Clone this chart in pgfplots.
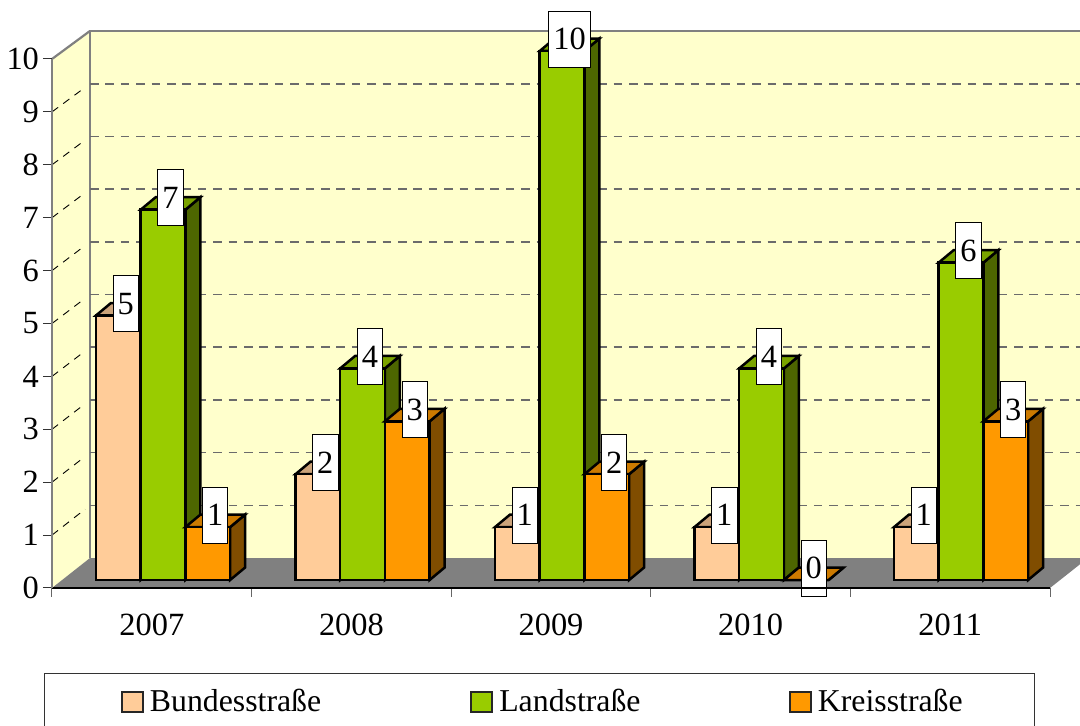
\documentclass[border=0pt]{standalone}
\usepackage{fontspec}
\setmainfont{Liberation Serif}
\usepackage{pgfplots}
\pgfplotsset{compat=1.18}

% 1 image pixel = 0.5pt
\definecolor{wallc}{HTML}{FFFFCC}
\definecolor{floorc}{HTML}{808080}
\definecolor{peachf}{HTML}{FFCC99}
\definecolor{peachs}{HTML}{806650}
\definecolor{peacht}{HTML}{CCA37A}
\definecolor{greenf}{HTML}{99CC00}
\definecolor{greens}{HTML}{4D6600}
\definecolor{greent}{HTML}{7AA300}
\definecolor{orangef}{HTML}{FF9900}
\definecolor{oranges}{HTML}{804D00}
\definecolor{oranget}{HTML}{CC7A00}

\tikzset{
  barline/.style={draw=black,line width=1.25pt,line join=miter},
  barlabel/.style={draw=black,line width=.5pt,fill=white,font=\fontsize{16.2}{18}\selectfont,
    minimum height=28pt,inner xsep=2.3pt,inner ysep=0pt},
  legendswatch/.style={draw=black!85,line width=1pt},
}

\newcommand{\basey}{0.151}
\newcommand{\barw}{0.224}
\newcommand{\depx}{0.075}
\newcommand{\depy}{0.236}

% #1 left edge, #2 value, #3 series colour prefix
\newcommand{\tdbar}[3]{%
  \pgfmathsetmacro\xa{#1}%
  \pgfmathsetmacro\xb{\xa+\barw}%
  \pgfmathsetmacro\xc{\xb+\depx}%
  \pgfmathsetmacro\xd{\xa+\depx}%
  \pgfmathsetmacro\ya{\basey}%
  \pgfmathsetmacro\yb{\basey+#2}%
  \pgfmathsetmacro\yc{\yb+\depy}%
  \pgfmathsetmacro\yd{\ya+\depy}%
  \edef\tmp{%
    \noexpand\addplot[forget plot,barline,fill=#3s] coordinates {(\xb,\ya) (\xc,\yd) (\xc,\yc) (\xb,\yb)} --cycle;
    \noexpand\addplot[forget plot,barline,fill=#3t] coordinates {(\xa,\yb) (\xd,\yc) (\xc,\yc) (\xb,\yb)} --cycle;
    \noexpand\addplot[forget plot,barline,fill=#3f] coordinates {(\xa,\ya) (\xb,\ya) (\xb,\yb) (\xa,\yb)} --cycle;
  }\tmp
}
\newcommand{\tdlabel}[2]{%
  \pgfmathsetmacro\xa{#1+\barw/2+\depx/2}%
  \pgfmathsetmacro\ya{\basey+#2+\depy-0.012}%
  \edef\tmp{\noexpand\node[barlabel] at (axis cs:\xa,\ya) {#2};}\tmp
}
% group index, Bundesstrasse, Landstrasse, Kreisstrasse
\newcommand{\tdgroup}[4]{%
  \tdbar{#1*0.9995+0.2204}{#2}{peach}%
  \tdbar{#1*0.9995+0.4444}{#3}{green}%
  \tdbar{#1*0.9995+0.6684}{#4}{orange}%
}
\newcommand{\tdgrouplabels}[4]{%
  \tdlabel{#1*0.9995+0.2204}{#2}%
  \tdlabel{#1*0.9995+0.4444}{#3}%
  \tdlabel{#1*0.9995+0.6684}{#4}%
}

\begin{document}
\begin{tikzpicture}
\path[use as bounding box] (-26pt,-69pt) rectangle (514pt,294pt);
\begin{axis}[
  x=99.8pt, y=26.45pt,
  xmin=0, xmax=5, ymin=0, ymax=10,
  clip=false,
  axis on top,
  axis x line=bottom, axis y line=left,
  x axis line style={-,black,line width=1pt},
  y axis line style={-,floorc,line width=1.1pt},
  xtick={0,1,2,3,4,5},
  xticklabels={2007,2008,2009,2010,2011},
  x tick label as interval,
  ytick={0,1,...,10},
  tick align=outside,
  major tick length=4.5pt,
  x tick style={black!60,line width=.5pt},
  y tick style={black!80,line width=.5pt},
  tick label style={font=\fontsize{16.2}{18}\selectfont},
  /pgf/number format/assume math mode=true,
  xticklabel style={yshift=-5pt},
  yticklabel style={xshift=1.5pt},
  legend image code/.code={\draw[#1] (0pt,-5pt) rectangle (10.5pt,5pt); \path (11.7pt,0pt);},
  legend style={at={(-0.008,-0.1607)},anchor=north west,draw=black!80,line width=.5pt,
    legend columns=3,font=\fontsize{15.9}{18}\selectfont,inner xsep=38pt,inner ysep=6pt},
]
% walls and floor
\addplot[forget plot,fill=wallc,draw=none] coordinates {(0,0) (0.1904,0.567) (0.1904,10.53) (0,10)} --cycle;
\addplot[forget plot,fill=wallc,draw=none] coordinates {(0.1904,0.567) (5.19,0.567) (5.19,10.53) (0.1904,10.53)} --cycle;
\addplot[forget plot,floorc,line width=1.25pt] coordinates {(0.1904,0.567) (0.1904,10.53) (5.19,10.53)};
\addplot[forget plot,floorc,line width=1.1pt] coordinates {(0,10) (0.1904,10.53)};
\pgfplotsforeachungrouped \val in {1,...,9}{%
  \pgfmathsetmacro\yb{0.567+0.9962*\val}%
  \pgfmathsetmacro\xe{0.166}%
  \pgfmathsetmacro\ye{\val+(\yb-\val)*0.87}%
  \edef\tmp{%
    \noexpand\addplot[forget plot,black!58,line width=.8pt,dash pattern=on 4.3pt off 3.4pt] coordinates {(0.1904,\yb) (5.19,\yb)};
    \noexpand\addplot[forget plot,black,line width=.45pt,dash pattern=on 3.8pt off 3.2pt] coordinates {(0,\val) (\xe,\ye)};
  }\tmp
}
\addplot[forget plot,fill=floorc,draw=none] coordinates {(0,0) (0.1904,0.567) (5.19,0.567) (5,0)} --cycle;
% bars
\tdgroup{0}{5}{7}{1}
\tdgroup{1}{2}{4}{3}
\tdgroup{2}{1}{10}{2}
\tdgroup{3}{1}{4}{0}
\tdgroup{4}{1}{6}{3}
% value labels
\tdgrouplabels{0}{5}{7}{1}
\tdgrouplabels{1}{2}{4}{3}
\tdgrouplabels{2}{1}{10}{2}
\tdgrouplabels{3}{1}{4}{0}
\tdgrouplabels{4}{1}{6}{3}
\addlegendimage{legendswatch,fill=peachf}
\addlegendentry{\makebox[158pt][l]{Bundesstraße}}
\addlegendimage{legendswatch,fill=greenf}
\addlegendentry{\makebox[142.6pt][l]{Landstraße}}
\addlegendimage{legendswatch,fill=orangef}
\addlegendentry{\makebox[68.3pt][l]{Kreisstraße}}
\end{axis}
\end{tikzpicture}
\end{document}
